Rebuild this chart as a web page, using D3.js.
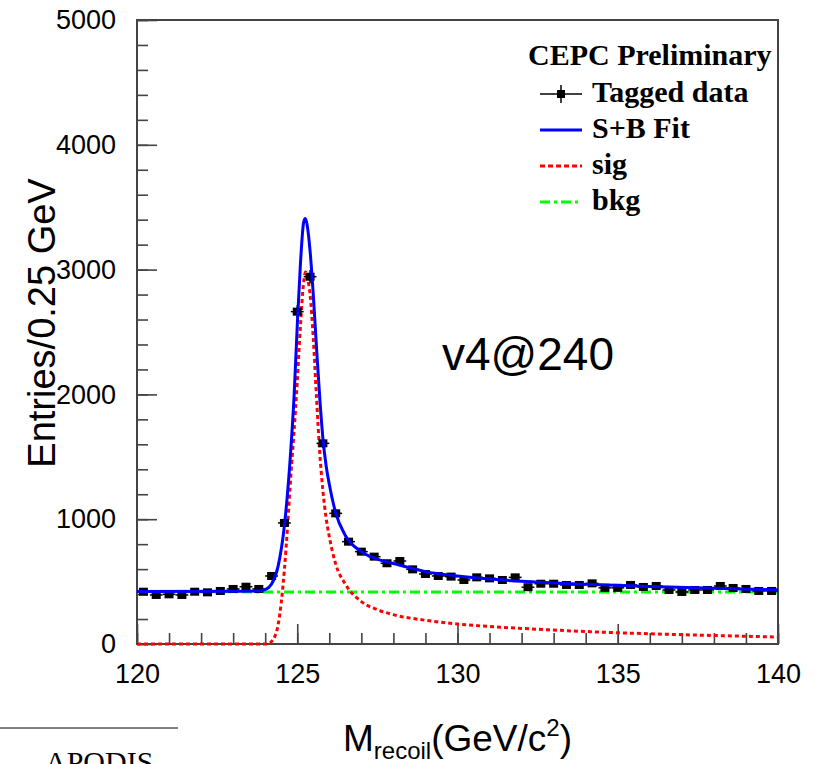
<!DOCTYPE html>
<html>
<head>
<meta charset="utf-8">
<script src="https://cdn.jsdelivr.net/npm/d3@7"></script>
<style>
  html, body { margin: 0; padding: 0; background: #fff; }
  svg { display: block; }
</style>
</head>
<body>
<svg id="chart" width="824" height="764"></svg>
<script>
// ---------- data ----------
const binLow = 120, binWidth = 0.4;           // 50 bins from 120 to 140 GeV
const dataCounts = [419, 393, 398, 393, 419, 414, 425, 441, 459, 441,
                    545, 970, 2663, 2943, 1608, 1047, 820, 740, 700, 647,
                    665, 598, 561, 545, 540, 513, 534, 526, 513, 534,
                    455, 483, 483, 473, 473, 486, 450, 450, 473, 457,
                    465, 433, 417, 433, 433, 465, 449, 441, 425, 425];

const fitMass = [120, 123, 123.8, 124, 124.2, 124.4, 124.6, 124.8, 124.9, 125.0, 125.1, 125.2, 125.25, 125.3, 125.4, 125.5, 125.6, 125.7, 125.8, 125.9, 126.0, 126.2, 126.5, 127, 127.5, 128, 129, 130, 131, 132, 134, 136, 138, 140];
const fitVals = [420, 422, 425, 435, 480, 620, 950, 1560, 1980, 2550, 3050, 3380, 3410, 3370, 3150, 2800, 2380, 1980, 1650, 1430, 1280, 1050, 870, 740, 680, 645, 580, 545, 520, 502, 478, 460, 446, 435];

const sigMass = [120, 124, 124.1, 124.2, 124.3, 124.4, 124.5, 124.6, 124.7, 124.8, 124.9, 125.0, 125.1, 125.2, 125.26, 125.32, 125.4, 125.5, 125.6, 125.7, 125.8, 125.9, 126.0, 126.2, 126.5, 127, 127.5, 128, 129, 130, 131, 132, 134, 136, 138, 140];
const sigVals = [0, 0, 5, 20, 60, 150, 330, 600, 950, 1350, 1700, 2100, 2550, 2900, 2980, 2930, 2800, 2450, 1980, 1540, 1230, 1010, 860, 640, 480, 340, 275, 235, 190, 160, 140, 125, 100, 82, 68, 56];

const bkgMass = [120, 130, 140];
const bkgVals = [418, 417, 416];

const xMajor = [120, 125, 130, 135, 140];
const xMinor = d3.range(120, 141, 1);
const yMajor = [0, 1000, 2000, 3000, 4000, 5000];
const yMinor = d3.range(0, 5001, 200);

const legendItems = ["Tagged data", "S+B Fit", "sig", "bkg"];

// ---------- layout ----------
const svg = d3.select("#chart");
const L = 137, R = 778, T = 20, B = 644;
const x = d3.scaleLinear().domain([120, 140]).range([L, R]);
const y = d3.scaleLinear().domain([0, 5000]).range([B, T]);
const sans = "'Liberation Sans', Arial, Helvetica, sans-serif";
const serif = "'Liberation Serif', 'Times New Roman', serif";
const axisColor = "#444";

// frame
svg.append("rect").attr("x", L).attr("y", T).attr("width", R - L).attr("height", B - T)
  .attr("fill", "none").attr("stroke", axisColor).attr("stroke-width", 2);

// x axis
const gx = svg.append("g").attr("transform", `translate(0,${B})`);
gx.call(d3.axisBottom(x).tickValues(xMinor).tickSize(-11).tickFormat(""));
const gx2 = svg.append("g").attr("transform", `translate(0,${B})`);
gx2.call(d3.axisBottom(x).tickValues(xMajor).tickSize(-20).tickPadding(20).tickFormat(d3.format("d")));
// y axis
const gy = svg.append("g").attr("transform", `translate(${L},0)`);
gy.call(d3.axisLeft(y).tickValues(yMinor).tickSize(-11).tickFormat(""));
const gy2 = svg.append("g").attr("transform", `translate(${L},0)`);
gy2.call(d3.axisLeft(y).tickValues(yMajor).tickSize(-20).tickPadding(21).tickFormat(d3.format("d")));

[gx, gx2, gy, gy2].forEach(g => {
  g.select(".domain").remove();
  g.selectAll(".tick line").attr("stroke", axisColor).attr("stroke-width", 1.6);
  g.selectAll(".tick text").attr("font-family", sans).attr("font-size", 27).attr("fill", "#000");
});

// ---------- curves ----------
const clip = svg.append("clipPath").attr("id", "clip").append("rect")
  .attr("x", L).attr("y", T).attr("width", R - L).attr("height", B - T + 3);
const plot = svg.append("g").attr("clip-path", "url(#clip)");

const lineGen = d3.line().x(d => x(d[0])).y(d => y(d[1])).curve(d3.curveMonotoneX);

plot.append("path").datum(bkgMass.map((m, i) => [m, bkgVals[i]]))
  .attr("d", lineGen).attr("fill", "none").attr("stroke", "#00ff00")
  .attr("stroke-width", 3).attr("stroke-dasharray", "10,4,3,4");

plot.append("path").datum(sigMass.map((m, i) => [m, sigVals[i]]))
  .attr("d", lineGen).attr("fill", "none").attr("stroke", "#ff0000")
  .attr("stroke-width", 3).attr("stroke-dasharray", "4,3");

// data points
const bins = dataCounts.map((c, i) => ({ lo: binLow + i * binWidth, hi: binLow + (i + 1) * binWidth, c: c }));
const pts = plot.append("g");
pts.selectAll("line.h").data(bins).join("line").attr("class", "h")
  .attr("x1", d => x(d.lo)).attr("x2", d => x(d.hi))
  .attr("y1", d => y(d.c)).attr("y2", d => y(d.c))
  .attr("stroke", "#000").attr("stroke-width", 1.5);
pts.selectAll("line.v").data(bins).join("line").attr("class", "v")
  .attr("x1", d => x((d.lo + d.hi) / 2)).attr("x2", d => x((d.lo + d.hi) / 2))
  .attr("y1", d => y(d.c + Math.sqrt(d.c))).attr("y2", d => y(d.c - Math.sqrt(d.c)))
  .attr("stroke", "#000").attr("stroke-width", 1.5);
pts.selectAll("rect").data(bins).join("rect")
  .attr("x", d => x((d.lo + d.hi) / 2) - 4.5).attr("y", d => y(d.c) - 4)
  .attr("width", 9).attr("height", 8).attr("fill", "#000");

plot.append("path").datum(fitMass.map((m, i) => [m, fitVals[i]]))
  .attr("d", lineGen).attr("fill", "none").attr("stroke", "#0000ff")
  .attr("stroke-width", 3);

// ---------- legend ----------
svg.append("text").attr("x", 528).attr("y", 65).attr("font-family", serif)
  .attr("font-weight", "bold").attr("font-size", 30).text("CEPC Preliminary");
const legY = [94, 130, 166, 202];
legendItems.forEach((t, i) => {
  svg.append("text").attr("x", 592).attr("y", legY[i] + 8).attr("font-family", serif)
    .attr("font-weight", "bold").attr("font-size", 30).text(t);
});
// tagged data symbol
svg.append("line").attr("x1", 540).attr("x2", 582).attr("y1", legY[0]).attr("y2", legY[0]).attr("stroke", "#000").attr("stroke-width", 1.5);
svg.append("line").attr("x1", 561).attr("x2", 561).attr("y1", legY[0] - 9).attr("y2", legY[0] + 9).attr("stroke", "#000").attr("stroke-width", 1.5);
svg.append("rect").attr("x", 557).attr("y", legY[0] - 4).attr("width", 8).attr("height", 8).attr("fill", "#000");
svg.append("line").attr("x1", 540).attr("x2", 582).attr("y1", legY[1]).attr("y2", legY[1]).attr("stroke", "#0000ff").attr("stroke-width", 3);
svg.append("line").attr("x1", 540).attr("x2", 582).attr("y1", legY[2]).attr("y2", legY[2]).attr("stroke", "#ff0000").attr("stroke-width", 3).attr("stroke-dasharray", "5,3");
svg.append("line").attr("x1", 540).attr("x2", 582).attr("y1", legY[3]).attr("y2", legY[3]).attr("stroke", "#00ff00").attr("stroke-width", 3).attr("stroke-dasharray", "10,4,3,4");

// annotation
svg.append("text").attr("x", 442).attr("y", 370).attr("font-family", sans).attr("font-size", 46).text("v4@240");

// axis titles
svg.append("text").attr("transform", "translate(55,323) rotate(-90)").attr("text-anchor", "middle")
  .attr("font-family", sans).attr("font-size", 38).text("Entries/0.25 GeV");
const xt = svg.append("text").attr("x", 343).attr("y", 751).attr("font-family", sans).attr("font-size", 37);
xt.append("tspan").text("M");
xt.append("tspan").attr("font-size", 24).attr("dy", 8).text("recoil");
xt.append("tspan").attr("dy", -8).text("(GeV/c");
xt.append("tspan").attr("font-size", 24).attr("dy", -15).text("2");
xt.append("tspan").attr("dy", 15).text(")");

// bottom-left fragment (cut off at the page edge, as in the reference)
svg.append("line").attr("x1", 0).attr("x2", 178).attr("y1", 728).attr("y2", 728).attr("stroke", "#000").attr("stroke-width", 1);
svg.append("text").attr("x", 45).attr("y", 772).attr("font-family", serif).attr("font-size", 30).text("APODIS");
</script>
</body>
</html>
